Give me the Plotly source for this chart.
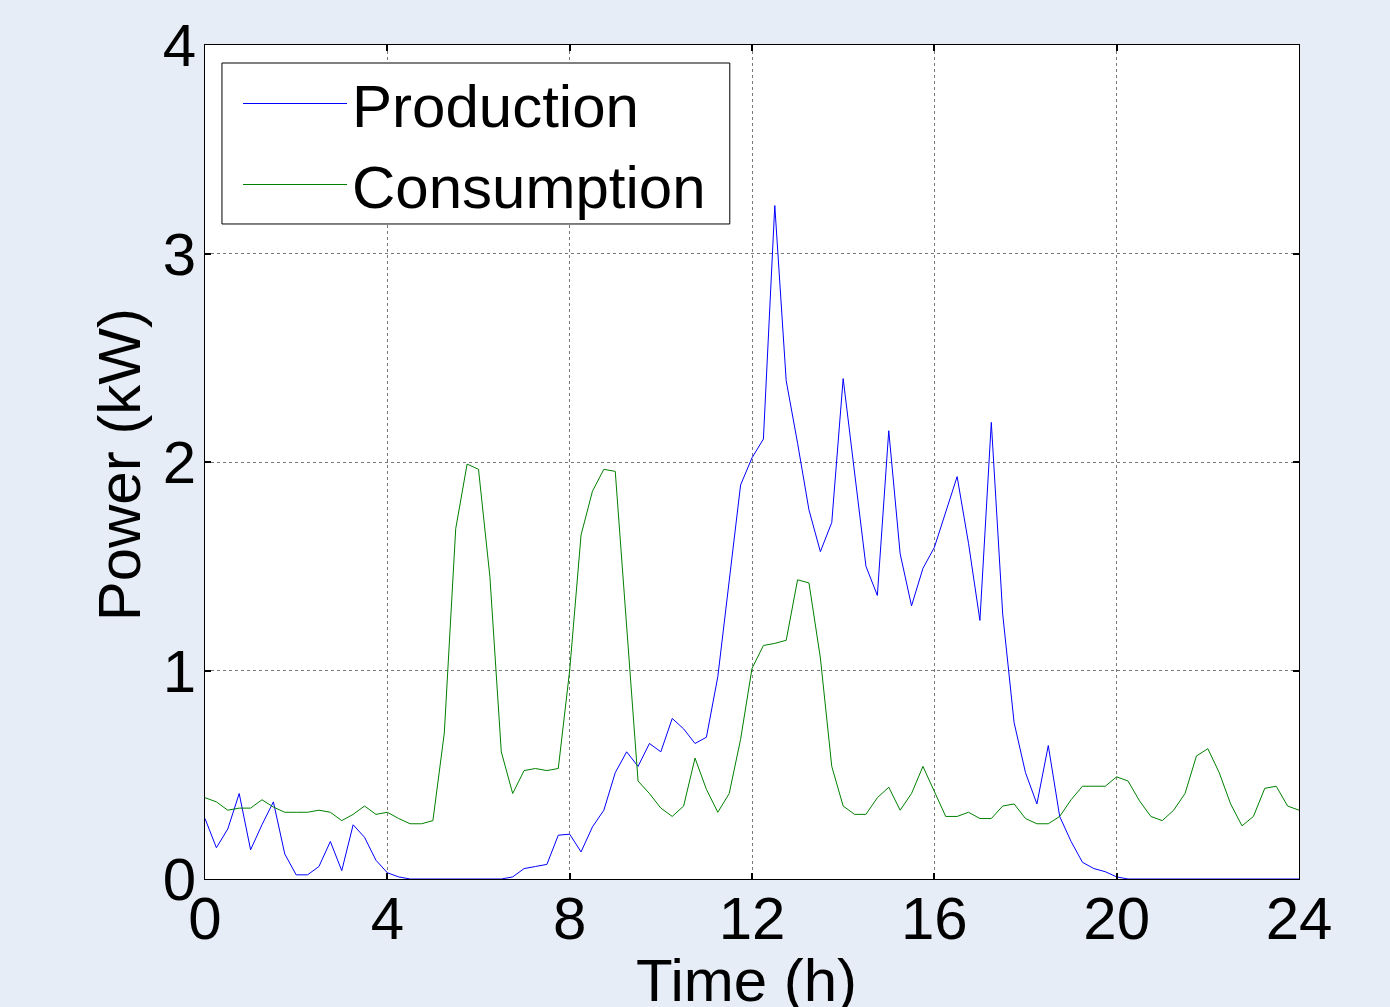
import plotly.graph_objects as go

# Time axis: 15-minute samples over 24 h
time_h = [i * 0.25 for i in range(97)]

production_kw = [
    0.29, 0.15, 0.24, 0.41, 0.14, 0.26, 0.37, 0.12,   # 0 - 1.75
    0.02, 0.02, 0.06, 0.18, 0.04, 0.26, 0.20, 0.09,   # 2 - 3.75
    0.03, 0.01, 0.00, 0.00, 0.00, 0.00, 0.00, 0.00,   # 4 - 5.75
    0.00, 0.00, 0.00, 0.01, 0.05, 0.06, 0.07, 0.21,   # 6 - 7.75
    0.215, 0.13, 0.25, 0.33, 0.51, 0.61, 0.54, 0.65, # 8 - 9.75
    0.61, 0.77, 0.72, 0.65, 0.68, 0.97, 1.43, 1.89,   # 10 - 11.75
    2.02, 2.11, 3.23, 2.39, 2.09, 1.77, 1.57, 1.71,   # 12 - 13.75
    2.40, 1.95, 1.50, 1.36, 2.15, 1.56, 1.31, 1.49,   # 14 - 15.75
    1.59, 1.76, 1.93, 1.61, 1.24, 2.19, 1.27, 0.75,   # 16 - 17.75
    0.51, 0.36, 0.64, 0.30, 0.18, 0.08, 0.05, 0.035,  # 18 - 19.75
    0.01, 0.00, 0.00, 0.00, 0.00, 0.00, 0.00, 0.00,   # 20 - 21.75
    0.00, 0.00, 0.00, 0.00, 0.00, 0.00, 0.00, 0.00,   # 22 - 23.75
    0.00,                                             # 24
]

consumption_kw = [
    0.39, 0.37, 0.33, 0.34, 0.34, 0.38, 0.345, 0.32,  # 0 - 1.75
    0.32, 0.32, 0.33, 0.32, 0.28, 0.31, 0.35, 0.31,   # 2 - 3.75
    0.32, 0.29, 0.265, 0.265, 0.28, 0.70, 1.68, 1.99, # 4 - 5.75
    1.965, 1.45, 0.61, 0.41, 0.52, 0.53, 0.52, 0.53,  # 6 - 7.75
    1.00, 1.65, 1.86, 1.965, 1.955, 1.20, 0.47, 0.41, # 8 - 9.75
    0.34, 0.30, 0.35, 0.58, 0.43, 0.32, 0.41, 0.67,   # 10 - 11.75
    1.01, 1.12, 1.13, 1.145, 1.435, 1.42, 1.06, 0.54, # 12 - 13.75
    0.35, 0.31, 0.31, 0.39, 0.44, 0.33, 0.41, 0.54,   # 14 - 15.75
    0.42, 0.30, 0.30, 0.32, 0.29, 0.29, 0.35, 0.36,   # 16 - 17.75
    0.29, 0.265, 0.265, 0.30, 0.38, 0.445, 0.445, 0.445,  # 18 - 19.75
    0.49, 0.47, 0.375, 0.30, 0.28, 0.33, 0.41, 0.59,  # 20 - 21.75
    0.625, 0.51, 0.36, 0.255, 0.30, 0.435, 0.445, 0.35,  # 22 - 23.75
    0.33,                                             # 24
]

x_ticks = [0, 4, 8, 12, 16, 20, 24]
y_ticks = [0, 1, 2, 3, 4]
x_title = "Time (h)"
y_title = "Power (kW)"

FONT = "Liberation Sans, Arial, sans-serif"
FS = 60
BG = "rgb(230,237,246)"

fig = go.Figure()
fig.add_trace(go.Scatter(x=time_h, y=production_kw, mode="lines", name="Production",
                         line=dict(color="rgb(0,0,255)", width=1)))
fig.add_trace(go.Scatter(x=time_h, y=consumption_kw, mode="lines", name="Consumption",
                         line=dict(color="rgb(0,128,0)", width=1)))

axis_common = dict(
    showline=True, linecolor="black", linewidth=1, mirror="allticks",
    ticks="inside", ticklen=6, tickcolor="black", tickwidth=2,
    showgrid=True, gridcolor="rgb(120,120,120)", gridwidth=1, griddash="dot",
    zeroline=False, automargin=False,
    tickfont=dict(family=FONT, size=FS, color="black"),
)

fig.update_xaxes(range=[0, 24], tickvals=x_ticks, ticktext=[str(v) for v in x_ticks],
                 ticklabelstandoff=-13, **axis_common)
fig.update_yaxes(range=[0, 4], tickvals=y_ticks, ticktext=[str(v) for v in y_ticks],
                 ticklabelstandoff=-4, **axis_common)

# axis titles
fig.add_annotation(text=x_title, xref="paper", yref="paper", x=0.495, y=0,
                   xanchor="center", yanchor="top", yshift=-66, showarrow=False,
                   font=dict(family=FONT, size=FS, color="black"))
fig.add_annotation(text=y_title, xref="paper", yref="paper", x=-0.0786, y=0.496,
                   xanchor="center", yanchor="middle", textangle=-90, showarrow=False,
                   font=dict(family=FONT, size=FS, color="black"))

# legend frame (drawn as a box behind the legend entries)
fig.add_shape(type="rect", xref="paper", yref="paper",
              x0=0.0155, x1=0.4797, y0=0.7854, y1=0.9784,
              line=dict(color="black", width=1), fillcolor="white", layer="above")

fig.update_layout(
    width=1390, height=1007,
    margin=dict(l=205, r=91, t=45, b=128),
    paper_bgcolor=BG,
    plot_bgcolor="white",
    showlegend=True,
    legend=dict(
        x=0.0302, y=0.9844, xanchor="left", yanchor="top",
        bgcolor="rgba(0,0,0,0)", borderwidth=0,
        font=dict(family=FONT, size=FS, color="black"),
        itemwidth=104, tracegroupgap=0,
    ),
)

fig.write_html(
    "out.html",
    config={"displayModeBar": False},
    post_script=(
        "document.body.style.margin='0';"
        "document.body.style.overflow='hidden';"
        f"document.body.style.background='{BG}';"
    ),
)
